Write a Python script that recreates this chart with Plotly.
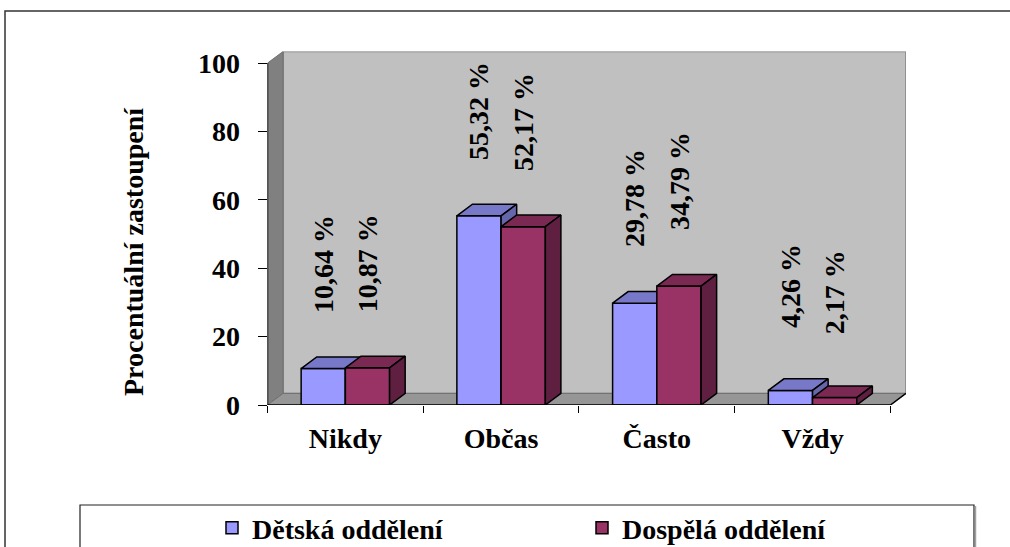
import plotly.graph_objects as go

# ---- data -------------------------------------------------------------
categories = ["Nikdy", "Občas", "Často", "Vždy"]
detska = [10.64, 55.32, 29.78, 4.26]
dospela = [10.87, 52.17, 34.79, 2.17]
series_names = ["Dětská oddělení", "Dospělá oddělení"]
y_ticks = [0, 20, 40, 60, 80, 100]

# ---- styling / geometry ----------------------------------------------
W, H = 1010, 547
FONT = "Liberation Serif, Times New Roman, serif"
BAR_W = 0.284          # width of one bar in category units
DX, DY = 0.1, 3.4      # depth of the pseudo-3D extrusion (x units, y units)
LABEL_OFFSET = 30.7    # distance of rotated value labels above bar tops
X_MIN, X_MAX = -0.5, len(categories) - 0.5
Y_MAX = 100

styles = [
    dict(front="#9999FF", top="#7878C8", side="#6666AA", offset=-BAR_W),
    dict(front="#993366", top="#7A2952", side="#5E1F40", offset=0.0),
]


def px_x(p):
    return p / W


def px_y(p):
    return 1 - p / H


def fmt(v):
    return f"{v:.2f} %".replace(".", ",")


fig = go.Figure()

series = [detska, dospela]
for i, (name, vals, st) in enumerate(zip(series_names, series, styles)):
    xa = "x" if i == 0 else "x2"
    ya = "y" if i == 0 else "y2"
    # front faces
    fig.add_trace(go.Bar(
        x=list(range(len(categories))), y=vals, name=name,
        width=BAR_W, offset=st["offset"],
        marker=dict(color=st["front"], line=dict(color="black", width=1.5)),
        xaxis=xa, yaxis=ya,
    ))
    # top and side faces of each bar
    tx, ty, sx, sy = [], [], [], []
    for k, v in enumerate(vals):
        x0 = k + st["offset"]
        x1 = x0 + BAR_W
        tx += [x0, x1, x1 + DX, x0 + DX, x0, None]
        ty += [v, v, v + DY, v + DY, v, None]
        sx += [x1, x1, x1 + DX, x1 + DX, x1, None]
        sy += [0, v, v + DY, DY, 0, None]
    for fx, fy, col in ((tx, ty, st["top"]), (sx, sy, st["side"])):
        fig.add_trace(go.Scatter(
            x=fx, y=fy, mode="lines", fill="toself", fillcolor=col,
            line=dict(color="black", width=1.5), showlegend=False,
            hoverinfo="skip", xaxis=xa, yaxis=ya,
        ))
    # rotated value labels
    for k, v in enumerate(vals):
        fig.add_annotation(
            x=k + st["offset"] + BAR_W / 2, y=v + LABEL_OFFSET,
            xref="x", yref="y", text=fmt(v), showarrow=False,
            textangle=-90, xanchor="center", yanchor="middle",
            font=dict(family=FONT, size=28, color="black", weight="bold"),
        )

# ---- walls and floor ---------------------------------------------------
def path(points):
    return "M " + " L ".join(f"{x},{y}" for x, y in points) + " Z"

shapes = [
    # back wall
    dict(type="path", xref="x", yref="y", layer="below",
         path=path([(X_MIN + DX, DY), (X_MAX + DX, DY),
                    (X_MAX + DX, Y_MAX + DY), (X_MIN + DX, Y_MAX + DY)]),
         fillcolor="#C0C0C0", line=dict(color="#808080", width=1.5)),
    # left side wall
    dict(type="path", xref="x", yref="y", layer="below",
         path=path([(X_MIN, 0), (X_MIN, Y_MAX),
                    (X_MIN + DX, Y_MAX + DY), (X_MIN + DX, DY)]),
         fillcolor="#808080", line=dict(color="#707070", width=1)),
    # floor
    dict(type="path", xref="x", yref="y", layer="below",
         path=path([(X_MIN, 0), (X_MAX, 0),
                    (X_MAX + DX, DY), (X_MIN + DX, DY)]),
         fillcolor="#969696", line=dict(color="#707070", width=1)),
    # axis lines
    dict(type="line", xref="x", yref="y", x0=X_MIN, x1=X_MIN, y0=0, y1=Y_MAX,
         line=dict(color="black", width=1.5)),
    dict(type="line", xref="x", yref="y", x0=X_MIN, x1=X_MAX, y0=0, y1=0,
         line=dict(color="black", width=1.5)),
    dict(type="line", xref="x", yref="y", x0=X_MAX, x1=X_MAX + DX, y0=0, y1=DY,
         line=dict(color="black", width=1.5)),
    # outer chart frame
    dict(type="rect", xref="paper", yref="paper",
         x0=px_x(5), x1=1.05, y0=-0.05, y1=px_y(11),
         line=dict(color="#333333", width=1.5), fillcolor="rgba(0,0,0,0)"),
    # legend frame
    dict(type="rect", xref="paper", yref="paper",
         x0=px_x(80), x1=px_x(974), y0=-0.05, y1=px_y(505),
         line=dict(color="#222222", width=1.2), fillcolor="rgba(0,0,0,0)"),
    dict(type="line", xref="paper", yref="paper",
         x0=px_x(975.5), x1=px_x(975.5), y0=-0.05, y1=px_y(506),
         line=dict(color="#A0A0A0", width=1.5)),
]

# y-axis title
fig.add_annotation(
    x=px_x(133), y=px_y(252), xref="paper", yref="paper",
    text="Procentuální zastoupení", textangle=-90, showarrow=False,
    xanchor="center", yanchor="middle",
    font=dict(family=FONT, size=28, color="black", weight="bold"),
)

x_dom = [px_x(267.5), px_x(906)]
y_dom = [px_y(405), px_y(51.5)]
tick_font = dict(family=FONT, size=28, color="black", weight="bold")

fig.update_layout(
    width=W, height=H,
    margin=dict(l=0, r=0, t=0, b=0, autoexpand=False),
    paper_bgcolor="white", plot_bgcolor="rgba(0,0,0,0)",
    barmode="overlay",
    showlegend=True,
    legend=dict(
        orientation="h", x=px_x(212), xanchor="left",
        y=px_y(528), yanchor="middle",
        font=dict(family=FONT, size=28, color="black", weight="bold"),
        entrywidth=325, entrywidthmode="pixels",
        bgcolor="rgba(0,0,0,0)", borderwidth=0,
    ),
    xaxis=dict(
        domain=x_dom, range=[X_MIN, X_MAX + DX], showgrid=False,
        zeroline=False, showline=False,
        tickmode="array", tickvals=list(range(len(categories))),
        ticktext=categories, ticks="", tickfont=tick_font,
        ticklabelstandoff=14, automargin=False,
        minor=dict(tickmode="array",
                   tickvals=[k - 0.5 for k in range(len(categories) + 1)],
                   ticks="outside", ticklen=7, tickcolor="black", tickwidth=1),
        fixedrange=True,
    ),
    yaxis=dict(
        domain=y_dom, range=[0, Y_MAX + DY], showgrid=False,
        zeroline=False, showline=False,
        tickmode="array", tickvals=y_ticks, ticks="outside",
        ticklen=9, tickcolor="black", tickwidth=1,
        tickfont=tick_font, ticklabelstandoff=12, fixedrange=True,
        automargin=False,
    ),
    xaxis2=dict(matches="x", overlaying="x", anchor="y2", visible=False,
                domain=x_dom),
    yaxis2=dict(matches="y", overlaying="y", anchor="x2", visible=False,
                domain=y_dom),
    shapes=shapes,
)

fig.write_html("out.html")
